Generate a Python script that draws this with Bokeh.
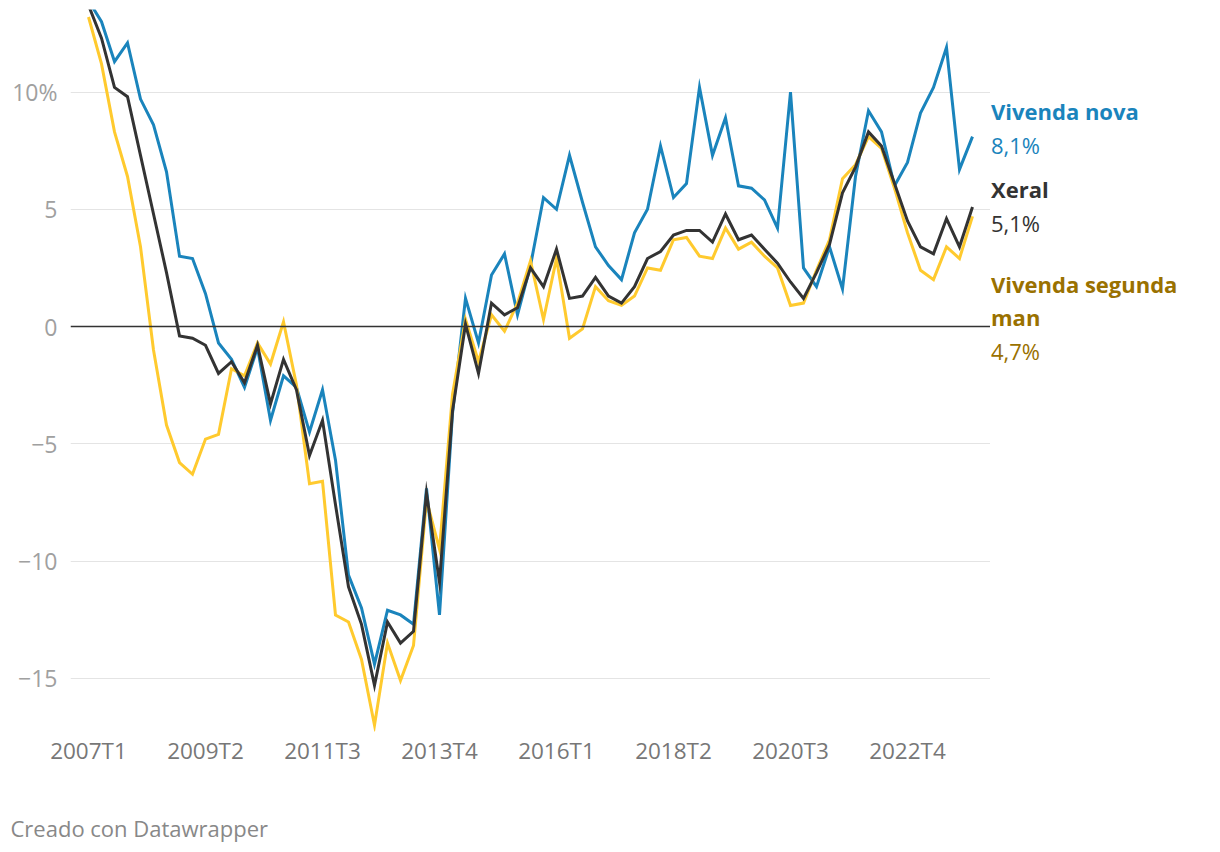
from bokeh.plotting import figure
from bokeh.models import FixedTicker, Span, Range1d
from bokeh.layouts import column, row
from bokeh.core.properties import value
from bokeh.embed import file_html
from bokeh.resources import INLINE

# ---- data -----------------------------------------------------------------
quarters = [f"{2007 + k // 4}T{k % 4 + 1}" for k in range(69)]

vivenda_nova = [
    13.9, 13.0, 11.3, 12.1, 9.7, 8.6, 6.6, 3.0, 2.9, 1.4,
    -0.7, -1.4, -2.6, -0.9, -4.0, -2.1, -2.6, -4.5, -2.7, -5.7,
    -10.6, -12.0, -14.4, -12.1, -12.3, -12.7, -6.9, -12.3, -3.7, 1.2,
    -0.7, 2.2, 3.1, 0.5, 2.6, 5.5, 5.0, 7.3, 5.3, 3.4,
    2.6, 2.0, 4.0, 5.0, 7.7, 5.5, 6.1, 10.2, 7.3, 8.9,
    6.0, 5.9, 5.4, 4.2, 10.0, 2.5, 1.7, 3.4, 1.6, 6.4,
    9.2, 8.3, 6.0, 7.0, 9.1, 10.2, 11.9, 6.7, 8.1,
]
xeral = [
    13.7, 12.3, 10.2, 9.8, 7.3, 4.8, 2.3, -0.4, -0.5, -0.8,
    -2.0, -1.5, -2.4, -0.8, -3.3, -1.4, -2.7, -5.5, -4.0, -7.6,
    -11.1, -12.7, -15.3, -12.6, -13.5, -13.0, -7.1, -10.9, -3.6, 0.1,
    -2.0, 1.0, 0.5, 0.8, 2.5, 1.7, 3.3, 1.2, 1.3, 2.1,
    1.3, 1.0, 1.7, 2.9, 3.2, 3.9, 4.1, 4.1, 3.6, 4.8,
    3.7, 3.9, 3.3, 2.7, 1.9, 1.2, 2.3, 3.5, 5.7, 6.8,
    8.3, 7.7, 6.1, 4.5, 3.4, 3.1, 4.6, 3.4, 5.1,
]
vivenda_segunda_man = [
    13.2, 11.2, 8.3, 6.4, 3.4, -1.0, -4.2, -5.8, -6.3, -4.8,
    -4.6, -1.8, -2.1, -0.7, -1.6, 0.2, -2.5, -6.7, -6.6, -12.3,
    -12.6, -14.2, -17.0, -13.5, -15.1, -13.6, -7.4, -9.5, -2.9, 0.3,
    -1.5, 0.5, -0.2, 1.0, 2.8, 0.3, 2.9, -0.5, -0.1, 1.7,
    1.1, 0.9, 1.3, 2.5, 2.4, 3.7, 3.8, 3.0, 2.9, 4.2,
    3.3, 3.6, 3.0, 2.5, 0.9, 1.0, 2.4, 3.7, 6.3, 6.9,
    8.1, 7.6, 5.9, 4.0, 2.4, 2.0, 3.4, 2.9, 4.7,
]

x_tick_labels = ["2007T1", "2009T2", "2011T3", "2013T4", "2016T1", "2018T2", "2020T3", "2022T4"]
y_ticks = [-15, -10, -5, 0, 5, 10]
y_tick_labels = ["\u221215", "\u221210", "\u22125", "0", "5", "10%"]

series_labels = ["Vivenda nova", "Xeral", "Vivenda segunda man"]
last_values = ["8,1%", "5,1%", "4,7%"]

# ---- styles ---------------------------------------------------------------
FONT = "Open Sans"
C_NOVA = "#1a84bc"
C_XERAL = "#333333"
C_SEG = "#ffca2e"
C_SEG_TXT = "#9a7100"

x = list(range(len(quarters)))

# main chart: frame spans page x 70..990, y 9..731
p = figure(
    width=990, height=780, output_backend="svg", toolbar_location=None,
    x_range=Range1d(-1.385, 69.385), y_range=Range1d(-17.27, 13.52),
    min_border_left=70, min_border_right=0, min_border_top=9, min_border_bottom=49,
)
p.outline_line_color = None
p.background_fill_color = "white"
p.border_fill_color = "white"

p.yaxis.ticker = FixedTicker(ticks=y_ticks)
p.yaxis.major_label_overrides = {t: l for t, l in zip(y_ticks, y_tick_labels)}
p.yaxis.axis_line_color = None
p.yaxis.major_tick_line_color = None
p.yaxis.major_tick_out = 0
p.yaxis.major_tick_in = 0
p.yaxis.minor_tick_line_color = None
p.yaxis.major_label_standoff = 13
p.yaxis.major_label_text_font = FONT
p.yaxis.major_label_text_font_size = "23px"
p.yaxis.major_label_text_color = "#a0a0a0"

x_ticks = [quarters.index(t) for t in x_tick_labels]
p.xaxis.ticker = FixedTicker(ticks=x_ticks)
p.xaxis.major_label_overrides = {t: l for t, l in zip(x_ticks, x_tick_labels)}
p.xaxis.axis_line_color = None
p.xaxis.major_tick_line_color = None
p.xaxis.major_tick_out = 0
p.xaxis.major_tick_in = 0
p.xaxis.minor_tick_line_color = None
p.xaxis.major_label_standoff = 3
p.xaxis.major_label_text_font = FONT
p.xaxis.major_label_text_font_size = "22.5px"
p.xaxis.major_label_text_color = "#777777"

p.xgrid.grid_line_color = None
p.ygrid.ticker = FixedTicker(ticks=[t for t in y_ticks if t != 0])
p.ygrid.grid_line_color = "#e4e4e4"
p.ygrid.grid_line_width = 1

p.add_layout(Span(location=0, dimension="width", line_color="#333333", line_width=1.5))

p.line(x, vivenda_nova, line_color=C_NOVA, line_width=3, line_join="miter")
p.line(x, vivenda_segunda_man, line_color=C_SEG, line_width=3, line_join="miter")
p.line(x, xeral, line_color=C_XERAL, line_width=3, line_join="miter")

# right-hand label panel (page pixel coordinates)
lp = figure(
    width=220, height=780, output_backend="svg", toolbar_location=None,
    x_range=Range1d(990, 1210), y_range=Range1d(731, 9),
    x_axis_type=None, y_axis_type=None,
    min_border_left=0, min_border_right=0, min_border_top=9, min_border_bottom=49,
)
lp.outline_line_color = None
lp.xgrid.grid_line_color = None
lp.ygrid.grid_line_color = None

label_rows = [
    (series_labels[0], 110, C_NOVA, "bold"),
    (last_values[0], 144, C_NOVA, "normal"),
    (series_labels[1], 188, C_XERAL, "bold"),
    (last_values[1], 222, C_XERAL, "normal"),
    ("Vivenda segunda", 283, C_SEG_TXT, "bold"),
    ("man", 316, C_SEG_TXT, "bold"),
    (last_values[2], 350, C_SEG_TXT, "normal"),
]
for txt, yy, col, style in label_rows:
    lp.text(x=[990.5], y=[yy], text=[txt], text_color=col, text_font=value(FONT),
            text_font_style=style, text_font_size="22px",
            text_baseline="alphabetic", text_align="left")

# footer
fp = figure(
    width=1210, height=66, output_backend="svg", toolbar_location=None,
    x_range=Range1d(0, 1210), y_range=Range1d(846, 780),
    x_axis_type=None, y_axis_type=None,
    min_border_left=0, min_border_right=0, min_border_top=0, min_border_bottom=0,
)
fp.outline_line_color = None
fp.xgrid.grid_line_color = None
fp.ygrid.grid_line_color = None
fp.text(x=[10], y=[827], text=["Creado con Datawrapper"], text_color="#888888",
        text_font=value(FONT), text_font_size="22px", text_baseline="alphabetic")

layout = column(row(p, lp), fp)
open("out.html", "w").write(file_html(layout, INLINE))
